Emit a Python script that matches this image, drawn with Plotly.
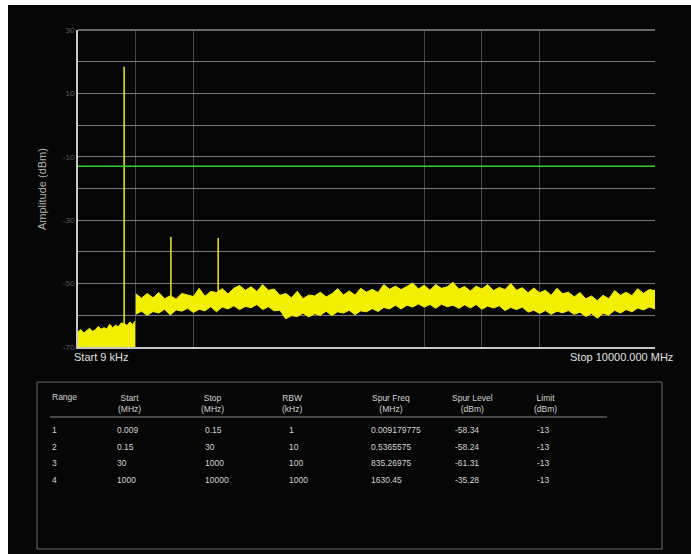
import plotly.graph_objects as go

# ---------------- data ----------------
# x = display position (0..1000 across the sweep, 9 kHz .. 10000 MHz, segmented ranges)
seg1_x = [0, 5, 10, 15, 20, 25, 30, 35, 40, 45, 50, 55, 60, 65, 70, 75, 80, 85, 90, 95, 99]
seg1_hi = [-65.2, -64.5, -65.6, -64.9, -64.1, -65.0, -64.6, -63.5, -64.4, -63.9, -64.3,
           -62.8, -63.9, -63.1, -63.6, -62.4, -62.6, -63.2, -62.1, -62.9, -61.8]
seg1_lo = [-70.0] * len(seg1_x)

band_x = [100, 110, 120, 130, 140, 150, 160, 170, 180, 190, 200, 210, 220, 230, 240, 250,
          260, 270, 280, 290, 300, 310, 320, 330, 340, 350, 360, 370, 380, 390, 400, 410,
          420, 430, 440, 450, 460, 470, 480, 490, 500, 510, 520, 530, 540, 550, 560, 570,
          580, 590, 600, 610, 620, 630, 640, 650, 660, 670, 680, 690, 700, 710, 720, 730,
          740, 750, 760, 770, 780, 790, 800, 810, 820, 830, 840, 850, 860, 870, 880, 890,
          900, 910, 920, 930, 940, 950, 960, 970, 980, 990, 1000]
band_hi = [-53.2, -54.6, -53.1, -54.5, -52.8, -54.8, -53.8, -54.9, -53.1, -53.6, -54.1,
           -51.5, -54.0, -52.5, -52.8, -51.6, -53.3, -51.5, -50.6, -52.1, -51.0, -52.5,
           -50.3, -52.1, -51.7, -53.7, -53.1, -54.5, -52.4, -54.8, -53.6, -53.9, -52.7,
           -54.2, -53.2, -51.6, -53.6, -52.3, -53.6, -51.5, -52.7, -51.8, -52.8, -50.3,
           -51.8, -50.8, -51.9, -50.9, -49.8, -51.7, -50.5, -52.1, -50.3, -51.5, -51.0,
           -49.6, -51.8, -50.9, -52.3, -50.8, -51.7, -50.3, -52.2, -51.2, -51.9, -50.0,
           -52.1, -51.3, -52.9, -51.4, -52.9, -52.1, -53.7, -51.5, -53.2, -52.7, -54.2,
           -52.8, -54.8, -53.9, -55.4, -53.7, -54.8, -52.2, -53.7, -52.7, -53.8, -51.6,
           -53.1, -51.9, -52.2]
band_lo = [-59.7, -58.7, -60.0, -58.8, -59.3, -58.1, -59.9, -58.3, -58.7, -57.8, -59.1,
           -58.1, -58.6, -57.3, -58.9, -57.4, -58.0, -57.0, -58.2, -57.2, -57.6, -56.6,
           -58.2, -57.3, -58.6, -58.4, -61.1, -60.1, -60.4, -59.3, -60.5, -59.5, -60.0,
           -58.7, -60.1, -58.9, -59.3, -58.4, -59.8, -58.6, -58.9, -57.9, -58.8, -57.5,
           -58.0, -56.8, -58.0, -56.8, -57.4, -56.4, -57.4, -56.6, -57.8, -56.5, -57.3,
           -56.8, -57.8, -56.7, -57.7, -56.6, -58.1, -57.1, -57.7, -57.0, -58.5, -57.5,
           -58.2, -57.4, -59.0, -58.4, -59.4, -58.5, -59.7, -58.7, -59.2, -58.5, -59.7,
           -59.0, -60.4, -59.4, -60.9, -59.4, -59.9, -58.4, -59.3, -58.2, -58.9, -57.7,
           -58.3, -57.4, -58.0]

spur_x = [80, 161, 243]
spur_base = [-62.8, -54.0, -52.5]
spur_peak = [18.4, -35.2, -35.6]

limit_dbm = -13
x_grid = [100, 200, 600, 700, 800]
y_ticks = [30, 20, 10, 0, -10, -20, -30, -40, -50, -60, -70]
y_ticktext = ["30", "", "10", "", "-10", "", "-30", "", "-50", "", "-70"]

start_label = "Start 9 kHz"
stop_label = "Stop 10000.000 MHz"
y_title = "Amplitude (dBm)"

tbl_headers = ["Range", "Start<br>(MHz)", "Stop<br>(MHz)", "RBW<br>(kHz)",
               "Spur Freq<br>(MHz)", "Spur Level<br>(dBm)", "Limit<br>(dBm)"]
tbl_range = ["1", "2", "3", "4"]
tbl_start = ["0.009", "0.15", "30", "1000"]
tbl_stop = ["0.15", "30", "1000", "10000"]
tbl_rbw = ["1", "10", "100", "1000"]
tbl_spur_freq = ["0.009179775", "0.5365575", "835.26975", "1630.45"]
tbl_spur_level = ["-58.34", "-58.24", "-61.31", "-35.28"]
tbl_limit = ["-13", "-13", "-13", "-13"]

# ---------------- layout geometry (page pixels) ----------------
PAGE_W, PAGE_H = 691, 554
OX, OY = 8, 5                      # figure origin on the page (scan border)
W, H = PAGE_W - OX, PAGE_H - OY
L, R, T, B = 78, 655, 30, 347      # plot area in page pixels
PW, PH = R - L, B - T


def px(x):
    return (x - L) / PW


def py(y):
    return (B - y) / PH


YEL = "#f2f000"
fig = go.Figure()

fig.add_trace(go.Scatter(x=seg1_x, y=seg1_lo, mode="lines", line=dict(width=0, color=YEL),
                         showlegend=False, hoverinfo="skip"))
fig.add_trace(go.Scatter(x=seg1_x, y=seg1_hi, mode="lines", line=dict(width=1, color=YEL),
                         fill="tonexty", fillcolor=YEL, showlegend=False, hoverinfo="skip"))
fig.add_trace(go.Scatter(x=band_x, y=band_lo, mode="lines", line=dict(width=1, color=YEL),
                         showlegend=False, hoverinfo="skip"))
fig.add_trace(go.Scatter(x=band_x, y=band_hi, mode="lines", line=dict(width=1, color=YEL),
                         fill="tonexty", fillcolor=YEL, showlegend=False, hoverinfo="skip"))
sx, sy = [], []
for x0, b0, p0 in zip(spur_x, spur_base, spur_peak):
    sx += [x0, x0, None]
    sy += [b0, p0, None]
fig.add_trace(go.Scatter(x=sx, y=sy, mode="lines", line=dict(width=1.6, color="#e0dc24"),
                         showlegend=False, hoverinfo="skip"))
fig.add_trace(go.Scatter(x=[0, 1000], y=[limit_dbm, limit_dbm], mode="lines",
                         line=dict(width=1.5, color="#2ed12e"), showlegend=False, hoverinfo="skip"))

shapes = []
shapes.append(dict(type="line", xref="paper", yref="paper", x0=0, x1=1, y0=1, y1=1,
                   line=dict(color="#8a8a8a", width=1.5)))
shapes.append(dict(type="rect", xref="paper", yref="paper", x0=px(37), x1=px(662), y0=py(549), y1=py(382),
                   line=dict(color="#6a6a6a", width=1), fillcolor="rgba(0,0,0,0)"))
shapes.append(dict(type="line", xref="paper", yref="paper", x0=px(50), x1=px(607), y0=py(417), y1=py(417),
                   line=dict(color="#8a8a8a", width=1)))

FONT = "Liberation Sans, Arial"
ann = []
ann.append(dict(text=y_title, x=px(42), y=py(189), xref="paper", yref="paper", textangle=-90,
                xanchor="center", yanchor="middle",
                showarrow=False, font=dict(color="#b0b0b0", size=11, family=FONT)))
ann.append(dict(text=start_label, x=px(72), y=py(357), xref="paper", yref="paper", xanchor="left",
                yanchor="middle", showarrow=False, font=dict(color="#e0e0e0", size=11, family=FONT)))
ann.append(dict(text=stop_label, x=px(675), y=py(357), xref="paper", yref="paper", xanchor="right",
                yanchor="middle", showarrow=False, font=dict(color="#e0e0e0", size=11, family=FONT)))

TF = dict(color="#d4d4d4", size=8.5, family=FONT)
hdr_cx = [None, 129, 212, 292, 391, 472, 545]
for i, h in enumerate(tbl_headers):
    if i == 0:
        ann.append(dict(text=h, x=px(50), y=py(397), xref="paper", yref="paper", xanchor="left",
                        yanchor="middle", showarrow=False, font=TF))
    else:
        ann.append(dict(text=h, x=px(hdr_cx[i]), y=py(403), xref="paper", yref="paper", xanchor="center",
                        yanchor="middle", align="center", showarrow=False, font=TF))
cols = [(50, tbl_range), (115, tbl_start), (203, tbl_stop), (287, tbl_rbw),
        (369, tbl_spur_freq), (453, tbl_spur_level), (535, tbl_limit)]
row_y = [430, 447, 463, 480]
for cx, vals in cols:
    for ry, v in zip(row_y, vals):
        ann.append(dict(text=v, x=px(cx), y=py(ry), xref="paper", yref="paper", xanchor="left",
                        yanchor="middle", showarrow=False, font=TF))

fig.update_layout(
    width=W, height=H,
    margin=dict(l=L - OX, r=PAGE_W - R, t=T - OY, b=PAGE_H - B, pad=0),
    paper_bgcolor="#060606", plot_bgcolor="#060606",
    shapes=shapes, annotations=ann,
    xaxis=dict(range=[0, 1000], tickvals=x_grid, showticklabels=False, ticks="",
               showgrid=True, gridcolor="#474747", gridwidth=1, zeroline=False,
               showline=True, linecolor="#c8c8c8", linewidth=2),
    yaxis=dict(range=[-70, 30], tickvals=y_ticks, ticktext=y_ticktext, ticks="",
               showgrid=True, gridcolor="#7a7a7a", gridwidth=1, zeroline=False,
               showline=True, linecolor="#c8c8c8", linewidth=2,
               tickfont=dict(color="#5e5e5e", size=8, family=FONT)),
    font=dict(family=FONT),
)

fig.write_html("out.html",
               post_script="document.body.style.margin='%dpx 0 0 %dpx';" % (OY, OX))
